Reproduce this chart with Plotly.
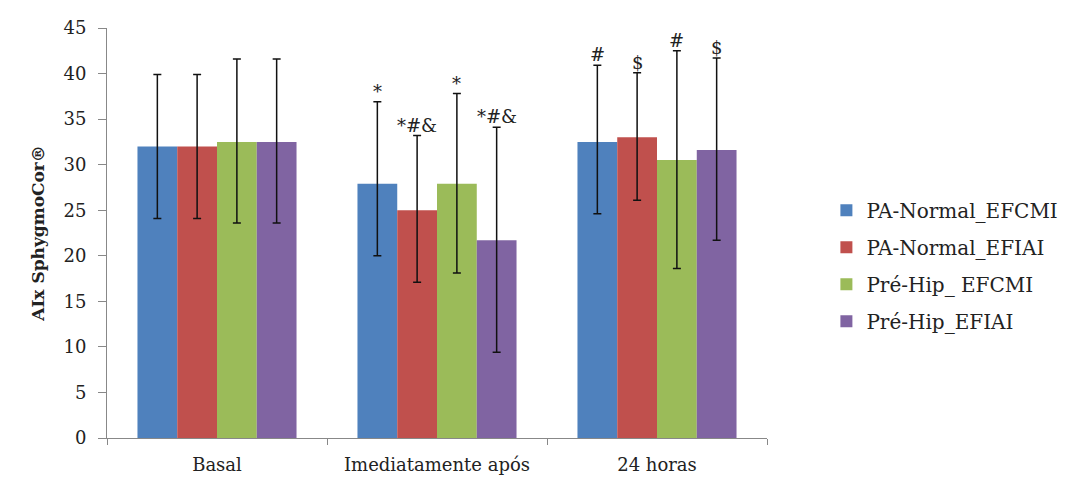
import plotly.graph_objects as go

categories = ["Basal", "Imediatamente após", "24 horas"]
series_names = ["PA-Normal_EFCMI", "PA-Normal_EFIAI", "Pré-Hip_ EFCMI", "Pré-Hip_EFIAI"]
colors = ["#4F81BD", "#C0504D", "#9BBB59", "#8064A2"]

pa_normal_efcmi = [32.0, 27.9, 32.5]
pa_normal_efiai = [32.0, 25.0, 33.0]
pre_hip_efcmi = [32.5, 27.9, 30.5]
pre_hip_efiai = [32.5, 21.7, 31.6]
values = [pa_normal_efcmi, pa_normal_efiai, pre_hip_efcmi, pre_hip_efiai]

err_plus = [
    [7.9, 9.0, 8.4],
    [7.9, 8.2, 7.1],
    [9.1, 9.9, 12.0],
    [9.1, 12.4, 10.1],
]
err_minus = [
    [7.9, 7.9, 7.9],
    [7.9, 7.9, 6.9],
    [8.9, 9.8, 11.9],
    [8.9, 12.3, 9.9],
]
sig_labels = [
    ["", "*", "#"],
    ["", "*#&", "$"],
    ["", "*", "#"],
    ["", "*#&", "$"],
]

FONT = "DejaVu Serif"
plot_l, plot_r, plot_t, plot_b = 107, 767, 28, 438
W, H = 1079, 479
bargap = 0.277
cat_px = (plot_r - plot_l) / len(categories)
bar_px = cat_px * (1 - bargap) / len(series_names)

fig = go.Figure()
for i, name in enumerate(series_names):
    fig.add_trace(go.Bar(
        name=name, x=categories, y=values[i], legendgroup=name,
        marker=dict(color=colors[i], line=dict(width=0)),
        error_y=dict(type="data", symmetric=False, array=err_plus[i], arrayminus=err_minus[i],
                     color="#111111", thickness=1.5, width=4),
    ))

annotations = []
for i in range(len(series_names)):
    for j, cat in enumerate(categories):
        lab = sig_labels[i][j]
        if lab:
            annotations.append(dict(
                x=cat, y=values[i][j] + err_plus[i][j], xref="x", yref="y",
                text=lab, showarrow=False, yanchor="bottom",
                xshift=(i - 1.5) * bar_px, yshift=-2,
                font=dict(family=FONT, size=18, color="#222222"),
            ))

fig.update_layout(
    width=W, height=H,
    margin=dict(l=plot_l, r=W - plot_r, t=plot_t, b=H - plot_b, pad=0, autoexpand=False),
    paper_bgcolor="white", plot_bgcolor="white",
    barmode="group", bargap=bargap, bargroupgap=0,
    font=dict(family=FONT, size=18, color="#222222"),
    annotations=annotations,
    legend=dict(x=1.09, xanchor="left", xref="paper", y=0.42, yanchor="middle",
                font=dict(family=FONT, size=20, color="#222222"),
                itemwidth=30, tracegroupgap=8, borderwidth=0, bgcolor="rgba(0,0,0,0)"),
    xaxis=dict(showline=True, linecolor="#888888", linewidth=1, ticks="outside",
               tickson="boundaries", ticklen=6, tickcolor="#888888", ticklabelstandoff=10,
               automargin=False,
               tickfont=dict(family=FONT, size=18, color="#222222"), showgrid=False),
    yaxis=dict(range=[0, 45], dtick=5, showline=True, linecolor="#888888", linewidth=1,
               ticks="outside", ticklen=8, tickcolor="#888888", showgrid=False, zeroline=False,
               ticklabelstandoff=8, automargin=False,
               tickfont=dict(family=FONT, size=18, color="#222222"),
               title=dict(text="<b>AIx SphygmoCor®</b>", font=dict(family=FONT, size=17, color="#222222"),
                          standoff=14)),
)

fig.write_html("out.html")
